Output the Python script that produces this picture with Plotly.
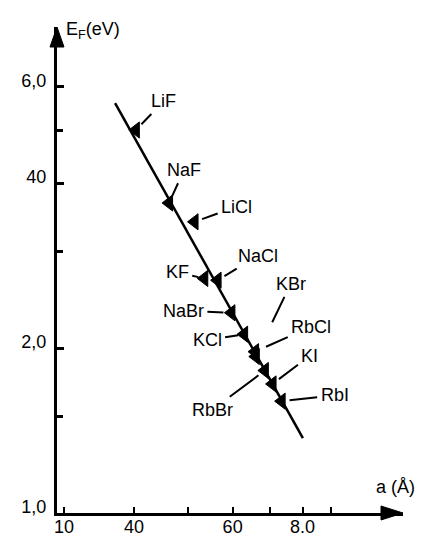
import numpy as np
import plotly.graph_objects as go

# Alkali halides: lattice constant a (Å) and Fermi energy E_F (eV)
salts = ["LiF", "NaF", "LiCl", "KF", "NaCl", "NaBr", "KCl", "KBr", "RbCl", "KI", "RbBr", "RbI"]
lattice_a = [4.03, 4.62, 5.13, 5.34, 5.64, 5.97, 6.29, 6.60, 6.58, 7.07, 6.85, 7.34]
fermi_e = [5.00, 3.68, 3.40, 2.68, 2.66, 2.32, 2.12, 1.93, 1.97, 1.72, 1.82, 1.60]

# label offsets (pixels) for each salt's annotation
label_dx = [28, 15, 42, -27, 40, -48, -37, 35, 56, 37, -52, 53]
label_dy = [-29, -33, -15, -6, -24, -2, 6, -73, -25, -28, 39, -6]
label_standoff = [8, 8, 8, 6, 8, 8, 6, 38, 12, 8, 8, 8]

# fitted trend line end points
trend_a = [3.70, 8.01]
trend_e = [5.60, 1.37]

# axis ticks
x_tickvals = [3, 4, 6, 8]
x_ticktext = ["10", "40", "60", "8.0"]
x_minorvals = [5, 7, 9]
y_tickvals = [1, 2, 4, 6]
y_ticktext = ["1,0", "2,0", "40", "6,0"]
y_minorvals = [1.5, 3, 5]

FONT = "Liberation Sans, Arial, sans-serif"

fig = go.Figure()
fig.add_trace(go.Scatter(
    x=trend_a, y=trend_e, mode="lines",
    line=dict(color="black", width=2.5), hoverinfo="skip", showlegend=False,
))
fig.add_trace(go.Scatter(
    x=lattice_a, y=fermi_e, mode="markers", text=salts,
    marker=dict(symbol="triangle-left", size=14, color="black",
                line=dict(color="black", width=1)),
    showlegend=False,
))

annotations = []
for name, a, e, dx, dy, so in zip(salts, lattice_a, fermi_e, label_dx, label_dy, label_standoff):
    annotations.append(dict(
        x=np.log10(a), y=np.log10(e), xref="x", yref="y",
        text=name, showarrow=True, ax=dx, ay=dy,
        arrowhead=0, arrowwidth=2, arrowcolor="black",
        standoff=so, startstandoff=2,
        font=dict(family=FONT, size=18, color="black"),
    ))

# axis titles
annotations.append(dict(
    x=0.02, y=1.02, xref="paper", yref="paper", xanchor="left", yanchor="top",
    text="E<sub>F</sub>(eV)", showarrow=False,
    font=dict(family=FONT, size=18, color="black"),
))
annotations.append(dict(
    x=0.977, y=0.053, xref="paper", yref="paper", xanchor="center", yanchor="middle",
    text="a (Å)", showarrow=False,
    font=dict(family=FONT, size=18, color="black"),
))

# arrow heads at the ends of both axes (plot area is 346 x 486 px)
PW, PH = 346.0, 486.0
shapes = [
    dict(type="path", xref="paper", yref="paper",
         path=f"M 0 1.0 L {-7/PW} {1-20/PH} L {7/PW} {1-20/PH} Z",
         fillcolor="black", line=dict(color="black", width=1)),
    dict(type="path", xref="paper", yref="paper",
         path=f"M 1.0 0 L {1-22/PW} {7/PH} L {1-22/PW} {-7/PH} Z",
         fillcolor="black", line=dict(color="black", width=1)),
]

fig.update_layout(
    width=426, height=539,
    margin=dict(l=57, r=23, t=27, b=26),
    paper_bgcolor="white", plot_bgcolor="white",
    annotations=annotations, shapes=shapes,
    font=dict(family=FONT, size=18, color="black"),
)
fig.update_xaxes(
    type="log", range=[0.4645, 1.0824],
    tickmode="array", tickvals=x_tickvals, ticktext=x_ticktext,
    ticks="inside", ticklen=6, tickwidth=2, tickcolor="black",
    minor=dict(tickmode="array", tickvals=x_minorvals, ticks="inside",
               ticklen=6, tickwidth=2, tickcolor="black", showgrid=False),
    showline=True, linewidth=3, linecolor="black",
    showgrid=False, zeroline=False, automargin=False,
    ticklabelstandoff=-5,
    tickfont=dict(family=FONT, size=18, color="black"),
)
fig.update_yaxes(
    type="log", range=[0, 0.887],
    tickmode="array", tickvals=y_tickvals, ticktext=y_ticktext,
    ticks="inside", ticklen=7, tickwidth=2.5, tickcolor="black",
    minor=dict(tickmode="array", tickvals=y_minorvals, ticks="inside",
               ticklen=6, tickwidth=2.5, tickcolor="black", showgrid=False),
    showline=True, linewidth=3, linecolor="black",
    showgrid=False, zeroline=False, automargin=False,
    ticklabelshift=-6, ticklabelstandoff=4,
    tickfont=dict(family=FONT, size=18, color="black"),
)

fig.write_html("out.html")
